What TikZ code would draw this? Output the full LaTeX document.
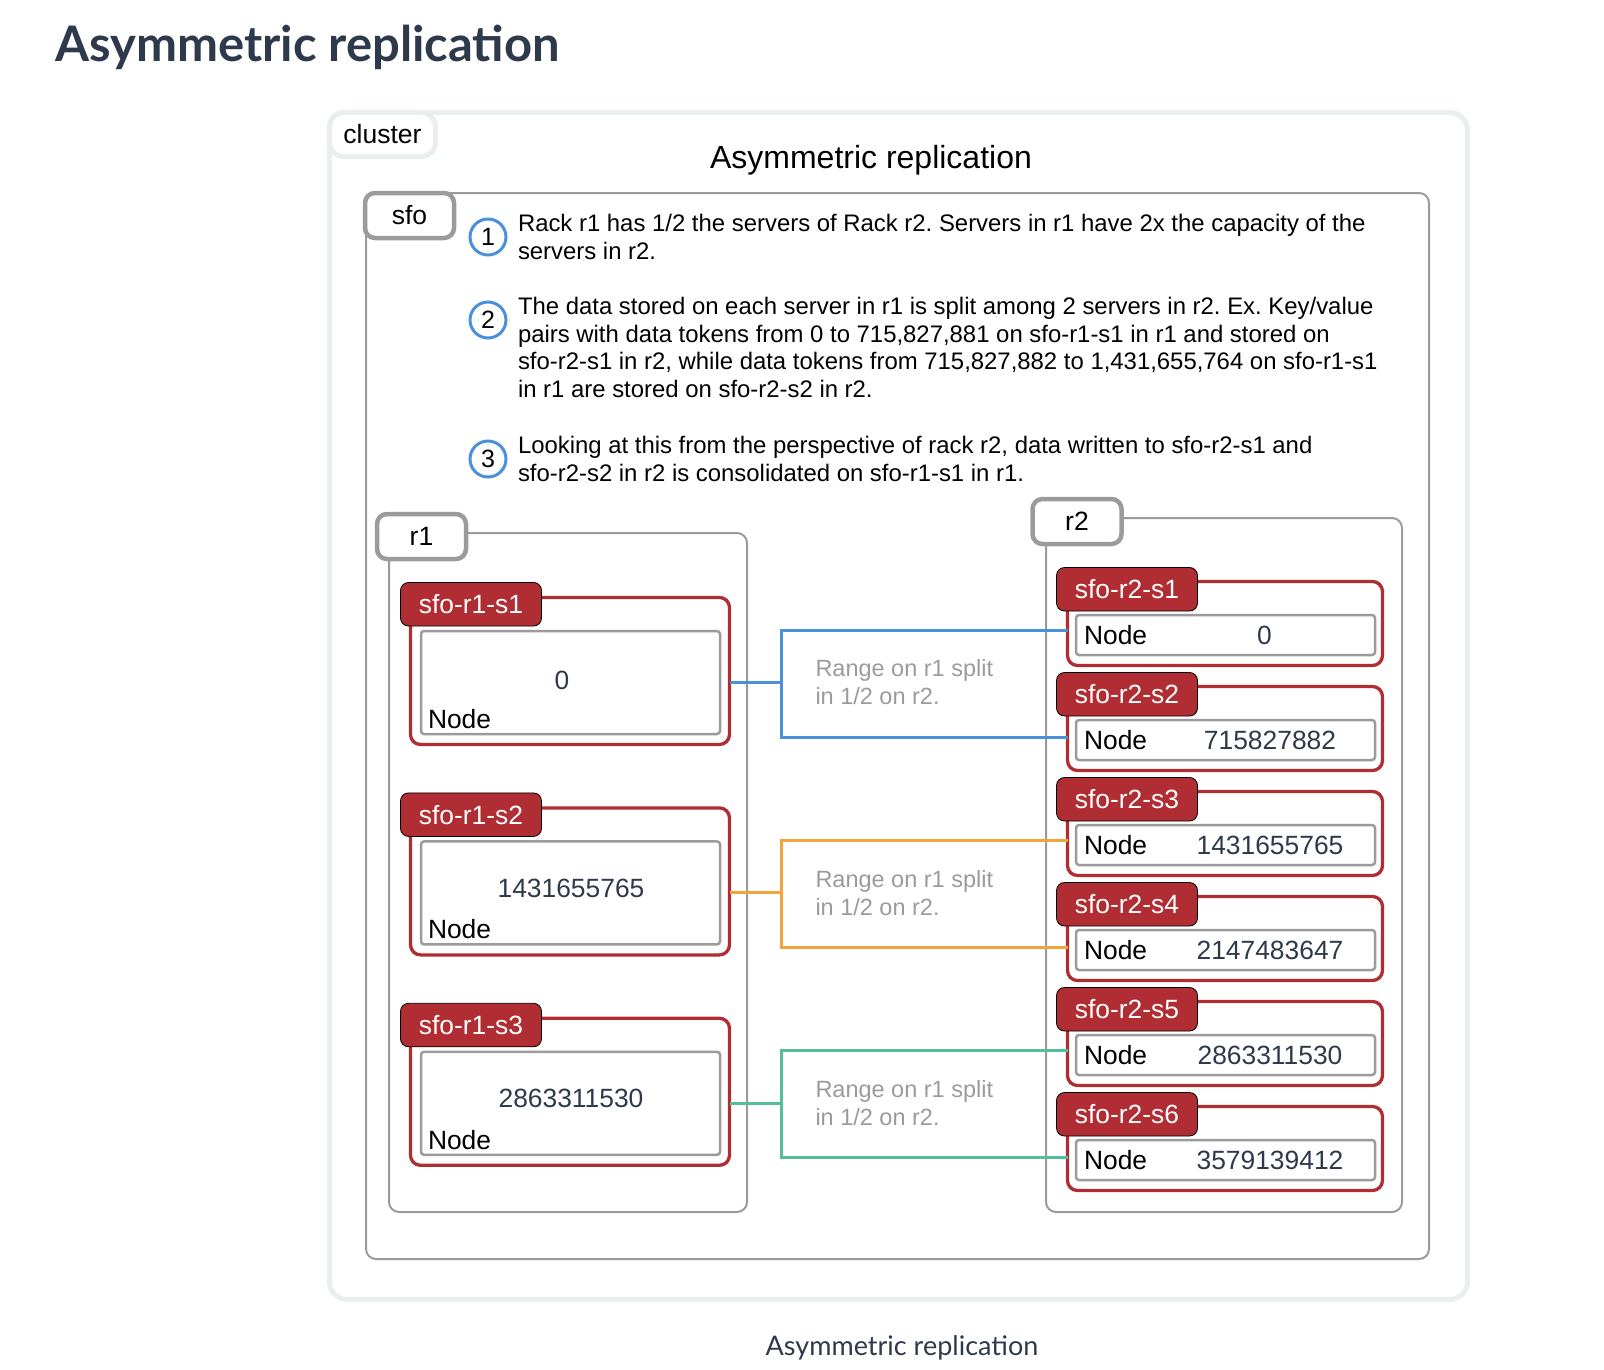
\documentclass[tikz,border=0pt]{standalone}
\usepackage{fontspec}
\setmainfont{Liberation Sans}
\newfontfamily\latofont{Lato}
\usetikzlibrary{positioning}
\definecolor{MySlate}{RGB}{46,58,75}
\definecolor{MyFrame}{RGB}{233,238,239}
\definecolor{MyGrey}{RGB}{155,155,155}
\definecolor{MyRed}{RGB}{176,45,51}
\definecolor{MyBlue}{RGB}{74,145,217}
\definecolor{MyOrange}{RGB}{242,165,58}
\definecolor{MyGreen}{RGB}{84,189,155}
\newcommand{\pxsize}[2]{\fontsize{#1pt}{#2pt}\selectfont}
\frenchspacing

\begin{document}
\begin{tikzpicture}[x=1pt,y=-1pt,every node/.style={inner sep=0pt,outer sep=0pt},
frame/.style={draw=MyFrame,line width=5pt,rounded corners=18pt,anchor=north west},
ctab/.style={draw=MyFrame,line width=5pt,rounded corners=14pt,fill=white,minimum width=106pt,minimum height=44pt,font=\pxsize{26.5}{30}},
region/.style={draw=MyGrey,line width=2pt,rounded corners=10pt,anchor=north west},
rtab/.style={draw=MyGrey,line width=4.5pt,rounded corners=10pt,fill=white,minimum width=89pt,minimum height=45pt,font=\pxsize{26.5}{30}},
server/.style={draw=MyRed,line width=3.3pt,rounded corners=10pt,fill=white,anchor=north west,minimum width=319pt},
stab/.style={draw=black,line width=.8pt,fill=MyRed,text=white,rounded corners=8pt,anchor=north west,minimum width=141pt,minimum height=43.5pt,font=\pxsize{26.4}{30}},
inbox/.style={draw=MyGrey,line width=2.5pt,rounded corners=3pt,anchor=north west,minimum width=299pt},
lbl/.style={font=\pxsize{26.4}{30},anchor=west},
val/.style={font=\pxsize{26.4}{30},text=MySlate},
num/.style={circle,draw=MyBlue,line width=3pt,minimum size=36pt,font=\pxsize{25}{30}},
note/.style={font=\pxsize{23.9}{27.7},align=left,anchor=north west},
splitlbl/.style={font=\pxsize{23.5}{28},text=MyGrey,align=left},
link/.style={line width=3pt}]
\useasboundingbox (0,0) rectangle (1604,1370);
% headings
\node[font=\latofont\bfseries\pxsize{49}{56},text=MySlate,anchor=base west] (title) at (55,62) {Asymmetric replication};
\node[font=\latofont\pxsize{27}{30},text=MySlate,anchor=base] (caption) at (902,1355) {Asymmetric replication};
% cluster and sfo
\node[frame,minimum width=1138pt,minimum height=1187pt] (cluster) at (329.5,112.5) {};
\node[ctab,anchor=north west] (clustertab) at (cluster.north west) {cluster};
\node[font=\pxsize{32}{36},anchor=base] (ctitle) at (871,168) {Asymmetric replication};
\node[region,minimum width=1063pt,minimum height=1066pt] (sfo) at (366,193) {};
\node[rtab] (sfotab) at (409.5,215.5) {sfo};
% notes
\node[num] (n1) at (488,237) {1};
\node[note] (t1) at (518,214) {Rack r1 has 1/2 the servers of Rack r2. Servers in r1 have 2x the capacity of the\\servers in r2.};
\node[num] (n2) at (488,320) {2};
\node[note] (t2) at (518,297) {The data stored on each server in r1 is split among 2 servers in r2. Ex. Key/value\\pairs with data tokens from 0 to 715,827,881 on sfo-r1-s1 in r1 and stored on\\sfo-r2-s1 in r2, while data tokens from 715,827,882 to 1,431,655,764 on sfo-r1-s1\\in r1 are stored on sfo-r2-s2 in r2.};
\node[num] (n3) at (488,459) {3};
\node[note] (t3) at (518,436) {Looking at this from the perspective of rack r2, data written to sfo-r2-s1 and\\sfo-r2-s2 in r2 is consolidated on sfo-r1-s1 in r1.};
% racks
\node[region,minimum width=358pt,minimum height=679pt] (r1) at (389,533) {};
\node[rtab] (r1tab) at (421.5,536.5) {r1};
\node[region,minimum width=356pt,minimum height=694pt] (r2) at (1046,518) {};
\node[rtab] (r2tab) at (1077,521.5) {r2};
% servers of r1
\node[server,minimum height=147pt] (r1s1) at (410.5,597.5) {};
\node[stab] (r1s1tab) at ([shift={(-10,-15)}]r1s1.north west) {sfo-r1-s1};
\node[inbox,minimum height=103pt] (r1s1in) at ([shift={(10.5,33.5)}]r1s1.north west) {};
\node[val] (r1s1val) at ([shift={(141,49)}]r1s1in.north west) {0};
\node[lbl] (r1s1lbl) at ([shift={(7,88)}]r1s1in.north west) {Node};
\node[server,minimum height=147pt] (r1s2) at (410.5,807.9) {};
\node[stab] (r1s2tab) at ([shift={(-10,-15)}]r1s2.north west) {sfo-r1-s2};
\node[inbox,minimum height=103pt] (r1s2in) at ([shift={(10.5,33.5)}]r1s2.north west) {};
\node[val] (r1s2val) at ([shift={(150,47)}]r1s2in.north west) {1431655765};
\node[lbl] (r1s2lbl) at ([shift={(7,88)}]r1s2in.north west) {Node};
\node[server,minimum height=147pt] (r1s3) at (410.5,1018.3) {};
\node[stab] (r1s3tab) at ([shift={(-10,-15)}]r1s3.north west) {sfo-r1-s3};
\node[inbox,minimum height=103pt] (r1s3in) at ([shift={(10.5,33.5)}]r1s3.north west) {};
\node[val] (r1s3val) at ([shift={(150,47)}]r1s3in.north west) {2863311530};
\node[lbl] (r1s3lbl) at ([shift={(7,88)}]r1s3in.north west) {Node};
% servers of r2
\node[server,minimum width=315pt,minimum height=84pt] (r2s1) at (1067.5,581.5) {};
\node[stab] (r2s1tab) at ([shift={(-11,-14)}]r2s1.north west) {sfo-r2-s1};
\node[inbox,minimum height=40pt] (r2s1in) at ([shift={(8.5,33.5)}]r2s1.north west) {};
\node[lbl,right=8pt of r2s1in.west] (r2s1lbl) {Node};
\node[val] (r2s1val) at ([xshift=39pt]r2s1in.center) {0};
\node[server,minimum width=315pt,minimum height=84pt] (r2s2) at (1067.5,686.5) {};
\node[stab] (r2s2tab) at ([shift={(-11,-14)}]r2s2.north west) {sfo-r2-s2};
\node[inbox,minimum height=40pt] (r2s2in) at ([shift={(8.5,33.5)}]r2s2.north west) {};
\node[lbl,right=8pt of r2s2in.west] (r2s2lbl) {Node};
\node[val] (r2s2val) at ([xshift=44.5pt]r2s2in.center) {715827882};
\node[server,minimum width=315pt,minimum height=84pt] (r2s3) at (1067.5,791.5) {};
\node[stab] (r2s3tab) at ([shift={(-11,-14)}]r2s3.north west) {sfo-r2-s3};
\node[inbox,minimum height=40pt] (r2s3in) at ([shift={(8.5,33.5)}]r2s3.north west) {};
\node[lbl,right=8pt of r2s3in.west] (r2s3lbl) {Node};
\node[val] (r2s3val) at ([xshift=44.5pt]r2s3in.center) {1431655765};
\node[server,minimum width=315pt,minimum height=84pt] (r2s4) at (1067.5,896.5) {};
\node[stab] (r2s4tab) at ([shift={(-11,-14)}]r2s4.north west) {sfo-r2-s4};
\node[inbox,minimum height=40pt] (r2s4in) at ([shift={(8.5,33.5)}]r2s4.north west) {};
\node[lbl,right=8pt of r2s4in.west] (r2s4lbl) {Node};
\node[val] (r2s4val) at ([xshift=44.5pt]r2s4in.center) {2147483647};
\node[server,minimum width=315pt,minimum height=84pt] (r2s5) at (1067.5,1001.5) {};
\node[stab] (r2s5tab) at ([shift={(-11,-14)}]r2s5.north west) {sfo-r2-s5};
\node[inbox,minimum height=40pt] (r2s5in) at ([shift={(8.5,33.5)}]r2s5.north west) {};
\node[lbl,right=8pt of r2s5in.west] (r2s5lbl) {Node};
\node[val] (r2s5val) at ([xshift=44.5pt]r2s5in.center) {2863311530};
\node[server,minimum width=315pt,minimum height=84pt] (r2s6) at (1067.5,1106.5) {};
\node[stab] (r2s6tab) at ([shift={(-11,-14)}]r2s6.north west) {sfo-r2-s6};
\node[inbox,minimum height=40pt] (r2s6in) at ([shift={(8.5,33.5)}]r2s6.north west) {};
\node[lbl,right=8pt of r2s6in.west] (r2s6lbl) {Node};
\node[val] (r2s6val) at ([xshift=44.5pt]r2s6in.center) {3579139412};
% split links
\path (r1s1.east |- r1s1in) ++(52,0) coordinate (ja);
\path (r1s2.east |- r1s2in) ++(52,0) coordinate (jb);
\path (r1s3.east |- r1s3in) ++(52,0) coordinate (jc);
\path (r2s1.west |- r2s1in) ++(0,-5) coordinate (a1);
\path (r2s2.west |- r2s2in) ++(0,-3) coordinate (a2);
\path (r2s3.west |- r2s3in) ++(0,-5) coordinate (a3);
\path (r2s4.west |- r2s4in) ++(0,-3) coordinate (a4);
\path (r2s5.west |- r2s5in) ++(0,-5) coordinate (a5);
\path (r2s6.west |- r2s6in) ++(0,-3) coordinate (a6);
\draw[link,draw=MyBlue] (r1s1.east |- r1s1in) -- (ja);
\draw[link,draw=MyBlue] (a1) -| (ja) |- (a2);
\draw[link,draw=MyOrange] (r1s2.east |- r1s2in) -- (jb);
\draw[link,draw=MyOrange] (a3) -| (jb) |- (a4);
\draw[link,draw=MyGreen] (r1s3.east |- r1s3in) -- (jc);
\draw[link,draw=MyGreen] (a5) -| (jc) |- (a6);
\node[splitlbl,right=34pt of ja] (range1) {Range on r1 split\\in 1/2 on r2.};
\node[splitlbl,right=34pt of jb] (range2) {Range on r1 split\\in 1/2 on r2.};
\node[splitlbl,right=34pt of jc] (range3) {Range on r1 split\\in 1/2 on r2.};
\end{tikzpicture}
\end{document}
